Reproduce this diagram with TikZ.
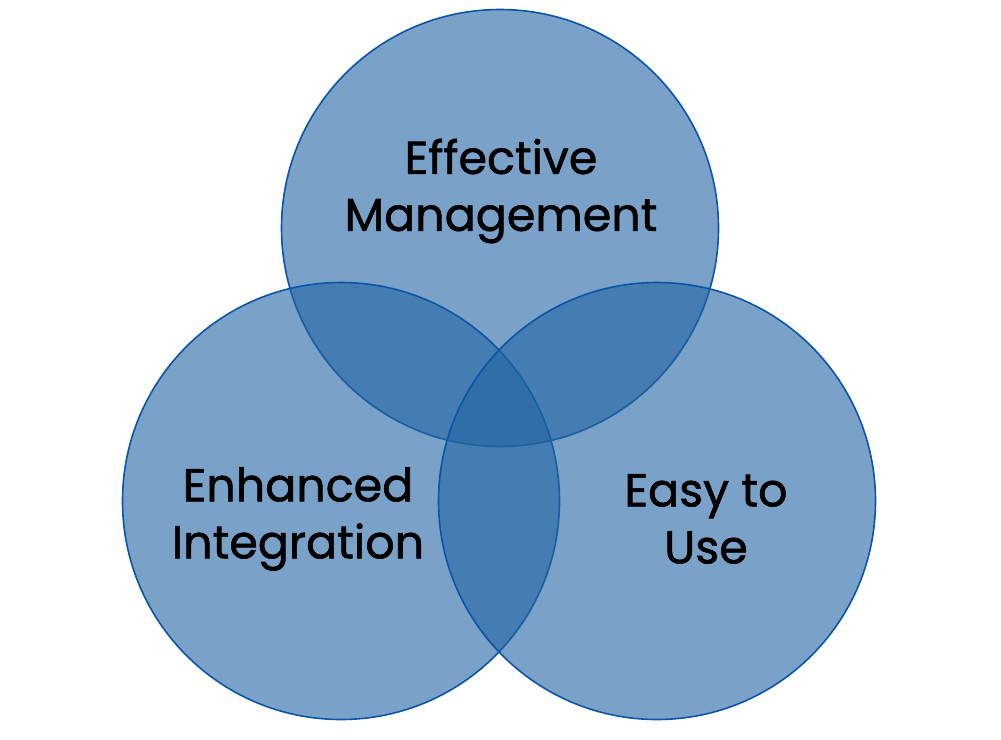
\documentclass[tikz,border=0pt]{standalone}
\usepackage{fontspec}
\setmainfont{Poppins}[FakeBold=1.3]
\definecolor{circfill}{RGB}{33,100,163}
\definecolor{circedge}{RGB}{10,85,168}
\tikzset{
  venn/.style={circle, minimum size=437pt, inner sep=0pt, draw=circedge, line width=1.6pt, fill=circfill, fill opacity=0.6},
  lbl/.style={align=center, font=\fontsize{46}{57}\selectfont, text=black, inner sep=0pt}
}
\begin{document}
\begin{tikzpicture}[x=1pt,y=-1pt]
\useasboundingbox (0,0) rectangle (1001,739);
\node[venn] (top) at (500,228) {};
\node[venn] (left) at (341,501) {};
\node[venn] (right) at (657,501) {};
\node[lbl] (tl) at (501,191) {Effective\\Management};
\node[lbl] (ll) at (298,519) {Enhanced\\Integration};
\node[lbl] (rl) at (706,519) {Easy to\\Use};
\end{tikzpicture}
\end{document}
